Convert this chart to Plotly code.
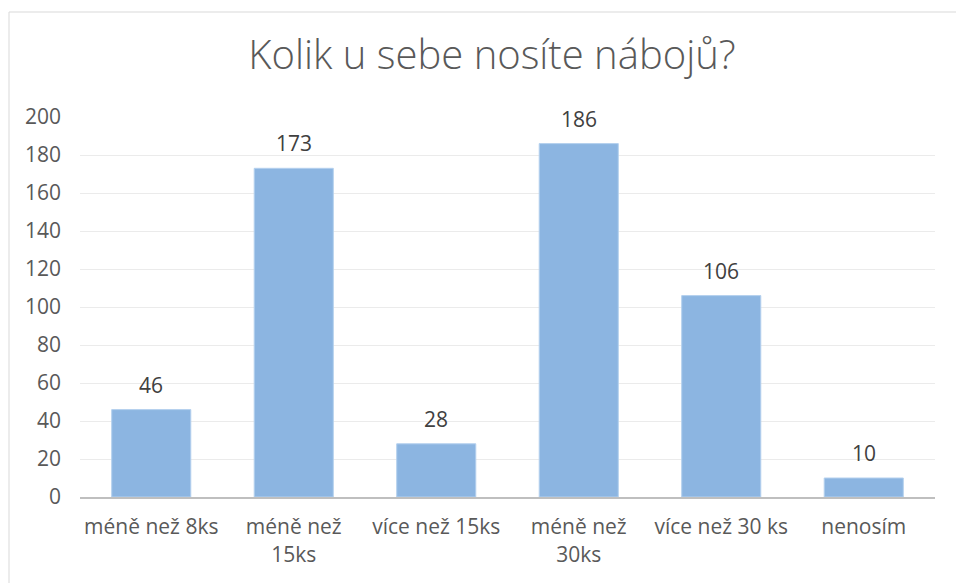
import plotly.graph_objects as go

categories = ["méně než 8ks", "méně než<br>15ks", "více než 15ks", "méně než<br>30ks", "více než 30 ks", "nenosím"]
values = [46, 173, 28, 186, 106, 10]
y_ticks = [0, 20, 40, 60, 80, 100, 120, 140, 160, 180, 200]

FONT = "Open Sans"
GREY = "#595959"

fig = go.Figure(go.Bar(
    x=categories, y=values,
    marker=dict(color="#8CB5E1", line=dict(color="#B4D0EE", width=1)),
    width=0.555, hoverinfo="skip",
))

annotations = [
    dict(x=c, y=v, text=str(v), showarrow=False, xref="x", yref="y",
         yanchor="middle", yshift=25,
         font=dict(family=FONT, size=21, color="#404040"))
    for c, v in zip(categories, values)
]

W, H = 956, 583
L, R, T, B = 80, 21, 117, 86
PW, PH = W - L - R, H - T - B
bx = (9 - L) / PW
by = (H - B - 12) / PH
fig.update_layout(
    width=W, height=H,
    margin=dict(l=L, r=R, t=T, b=B),
    paper_bgcolor="white", plot_bgcolor="white",
    showlegend=False,
    title=dict(text="Kolik u sebe nosíte nábojů?", x=492 / W, xanchor="center",
               y=1 - 55 / H, yanchor="middle",
               font=dict(family=FONT, size=40, color=GREY, weight=300)),
    xaxis=dict(showgrid=False, showline=True, linecolor="#BFBFBF", linewidth=2,
               ticks="", ticklabelstandoff=10, automargin=False,
               tickfont=dict(family=FONT, size=21, color=GREY)),
    yaxis=dict(range=[0, 200], tickvals=y_ticks, showgrid=True, gridcolor="#EBEBEB",
               gridwidth=1, zeroline=False, showline=False, ticks="",
               ticklabelstandoff=18, automargin=False,
               tickfont=dict(family=FONT, size=21, color=GREY)),
    annotations=annotations,
    shapes=[
        dict(type="line", xref="paper", yref="paper", x0=bx, x1=bx, y0=-0.5, y1=by,
             line=dict(color="#D9D9D9", width=1), layer="below"),
        dict(type="line", xref="paper", yref="paper", x0=bx, x1=1.2, y0=by, y1=by,
             line=dict(color="#D9D9D9", width=1), layer="below"),
    ],
)

fig.write_html("out.html", config={"displayModeBar": False},
               post_script="document.body.style.margin='0';document.body.style.overflow='hidden';")
